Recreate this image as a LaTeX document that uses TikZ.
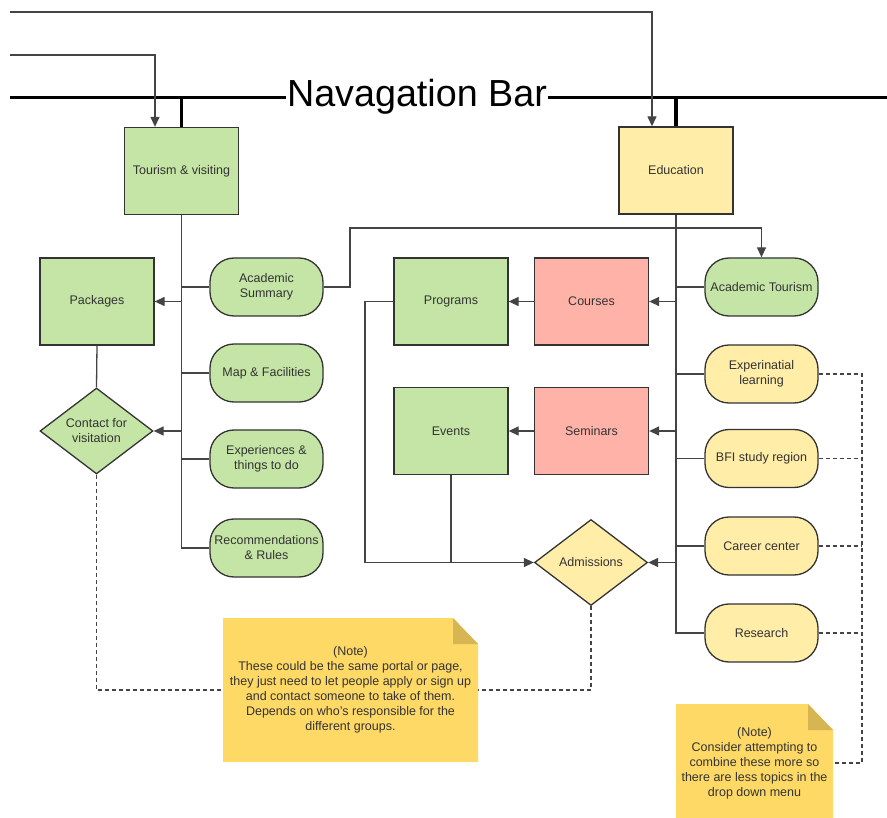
\documentclass[tikz,border=0pt]{standalone}
\usepackage{fontspec}
\setmainfont{Liberation Sans}
\usetikzlibrary{shapes.geometric, arrows.meta}
\definecolor{leafgreen}{HTML}{C5E5A6}
\definecolor{sand}{HTML}{FFEDA8}
\definecolor{salmon}{HTML}{FFB3A8}
\definecolor{notepaper}{HTML}{FFD966}
\definecolor{notefold}{HTML}{D6B552}
\definecolor{edge}{HTML}{333333}
\definecolor{wire}{HTML}{444444}
\tikzstyle{link} = [wire, line width=1.3pt]
\tikzstyle{arrow} = [link, ->, >={Triangle[length=10pt,width=9pt]}]
\tikzstyle{hint} = [wire, line width=1.3pt, dash pattern=on 4pt off 3pt]
\tikzstyle{bar} = [black, line width=3.5pt]
\tikzstyle{block} = [rectangle, draw=edge, line width=1.3pt, text=edge, align=center,
minimum width=114pt, minimum height=87pt]
\tikzstyle{pill} = [rectangle, rounded corners=24pt, draw=edge, line width=1.3pt, text=edge,
align=center, inner sep=2pt, minimum width=113pt, minimum height=58pt]
\tikzstyle{choice} = [diamond, aspect=1.3, draw=edge, line width=1.3pt, text=edge, align=center,
inner sep=0pt, minimum width=113pt, minimum height=86pt]
\tikzstyle{note} = [rectangle, fill=white, text=edge, align=center, path picture={
  \fill[notepaper] (path picture bounding box.south west) -- (path picture bounding box.north west)
    -- ([xshift=-25pt]path picture bounding box.north east) -- ([yshift=-26pt]path picture bounding box.north east)
    -- (path picture bounding box.south east) -- cycle;
  \fill[notefold] ([xshift=-25pt]path picture bounding box.north east)
    -- ([xshift=-25pt,yshift=-26pt]path picture bounding box.north east)
    -- ([yshift=-26pt]path picture bounding box.north east) -- cycle;}]

\begin{document}
\begin{tikzpicture}[x=1pt, y=-1pt, font=\fontsize{12.5}{15}\selectfont]
    \useasboundingbox (0,0) rectangle (887,818);

    % Nodes
    \node[anchor=base, inner sep=1pt, font=\fontsize{37.7}{40}\selectfont] (navbar) at (417,107) {Navagation Bar};
    \node[block, fill=leafgreen] (tourism)   at (181.5,171)   {Tourism \& visiting};
    \node[block, fill=sand]      (education) at (676,170.5)   {Education};

    \node[block, fill=leafgreen] (packages)  at (97,301.5)    {Packages};
    \node[choice, fill=leafgreen] (contact)  at (96.5,431)    {Contact for\\visitation};
    \node[pill, fill=leafgreen]  (acsum)     at (266.5,287)   {Academic\\Summary};
    \node[pill, fill=leafgreen]  (mapfac)    at (266.5,373)   {Map \& Facilities};
    \node[pill, fill=leafgreen]  (exper)     at (266.5,459)   {Experiences \&\\things to do};
    \node[pill, fill=leafgreen]  (recom)     at (266.5,548)   {Recommendations\\\& Rules};

    \node[block, fill=leafgreen] (programs)  at (451,301.5)   {Programs};
    \node[block, fill=salmon]    (courses)   at (591.5,301.5) {Courses};
    \node[block, fill=leafgreen] (events)    at (451,431)     {Events};
    \node[block, fill=salmon]    (seminars)  at (591.5,431)   {Seminars};
    \node[choice, fill=sand]     (admissions) at (591,562.5)  {Admissions};

    \node[pill, fill=leafgreen]  (actour)    at (761.5,287)   {Academic Tourism};
    \node[pill, fill=sand]       (explearn)  at (761.5,374)   {Experinatial\\learning};
    \node[pill, fill=sand]       (bfi)       at (761.5,458.5) {BFI study region};
    \node[pill, fill=sand]       (career)    at (761.5,546)   {Career center};
    \node[pill, fill=sand]       (research)  at (761.5,633)   {Research};

    \node[note, minimum width=255pt, minimum height=144pt] (note1) at (350.5,690)
        {(Note)\\These could be the same portal or page,\\they just need to let people apply or sign up\\and contact someone to take of them.\\Depends on who’s responsible for the\\different groups.};
    \node[note, minimum width=157pt, minimum height=118pt] (note2) at (754.5,763)
        {(Note)\\Consider attempting to\\combine these more so\\there are less topics in the\\drop down menu};

    \coordinate (barL)   at (10,97.5);
    \coordinate (barR)   at (887,97.5);
    \coordinate (wireA)  at (10,12);
    \coordinate (wireB)  at (10,55);
    \coordinate (detour) at (350,228);
    \coordinate (loop)   at (365,301.5);
    \coordinate (rail)   at (862,374);

    % Navigation bar
    \draw[bar] (barL) -- (barL -| navbar.west);
    \draw[bar] (barR -| navbar.east) -- (barR);
    \draw[bar] (tourism.north) -- (tourism.north |- barL);
    \draw[bar] (education.north) -- (education.north |- barL);
    \draw[arrow] (wireA) -| ([xshift=-24pt]education.north);
    \draw[arrow] (wireB) -| ([xshift=-26.5pt]tourism.north);

    % Tourism branch
    \draw[link] (tourism.south) |- (recom.west);
    \foreach \leaf in {acsum, mapfac, exper}
        \draw[link] (tourism.south |- \leaf.west) -- (\leaf.west);
    \draw[arrow] (tourism.south |- packages.east) -- (packages.east);
    \draw[arrow] (tourism.south |- contact.east) -- (contact.east);
    \draw[link] (packages.south) -- (contact.north);
    \draw[arrow] (acsum.east) -| (detour) -| (actour.north);

    % Education branch
    \draw[link] (education.south) |- (research.west);
    \foreach \leaf in {actour, explearn, bfi, career}
        \draw[link] (education.south |- \leaf.west) -- (\leaf.west);
    \foreach \dest in {courses, seminars, admissions}
        \draw[arrow] (education.south |- \dest.east) -- (\dest.east);
    \draw[arrow] (courses) -- (programs);
    \draw[arrow] (seminars) -- (events);
    \draw[arrow] (programs.west) -- (loop) |- (admissions.west);
    \draw[link] (events.south) -- (events.south |- admissions.west);

    % Notes
    \draw[hint] (contact.south) |- (note1.west);
    \draw[hint] (admissions.south) |- (note1.east);
    \draw[hint] (explearn.east) -- (rail) |- (note2.east);
    \foreach \leaf in {bfi, career, research}
        \draw[hint] (\leaf.east) -- (\leaf.east -| rail);

\end{tikzpicture}
\end{document}
